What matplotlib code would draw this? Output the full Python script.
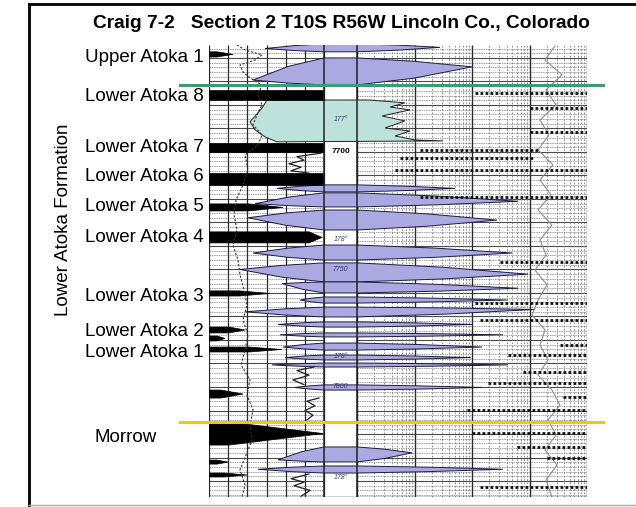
import matplotlib.pyplot as plt
import numpy as np
from matplotlib.lines import Line2D

plt.rcParams['font.family'] = ['Liberation Sans', 'DejaVu Sans']

# header text
title = 'Craig 7-2   Section 2 T10S R56W Lincoln Co., Colorado'
side_label = 'Lower Atoka Formation'

# formation tops picked on the log (depth in ft)
top_names = ['Upper Atoka 1', 'Lower Atoka 8', 'Lower Atoka 7', 'Lower Atoka 6',
             'Lower Atoka 5', 'Lower Atoka 4', 'Lower Atoka 3', 'Lower Atoka 2',
             'Lower Atoka 1', 'Morrow']
top_depths = [7660.0, 7676.2, 7697.9, 7710.6, 7723.4, 7736.2, 7761.7, 7776.2,
              7785.5, 7821.3]

# correlation lines
green_depth = 7671.5
yellow_depth = 7814.9

# depth column annotations
depth_texts = ['177°', '7700', '178°', '7750', '178°', '7800', '178°']
depth_text_depths = [7686.4, 7700.0, 7737.4, 7750.2, 7787.2, 7800.0, 7838.3]

# black (shale) beds in track 1: top, base, reach, start of taper
bed_top = [7657.4, 7673.6, 7696.2, 7708.9, 7722.1, 7734.0, 7759.1, 7774.5,
           7778.3, 7783.0, 7801.3, 7814.9, 7831.1, 7836.6]
bed_base = [7659.6, 7677.9, 7700.0, 7714.0, 7725.1, 7738.7, 7761.3, 7777.0,
            7780.4, 7785.1, 7804.7, 7824.7, 7832.8, 7838.3]
bed_reach = [24, 115, 115, 115, 74, 113, 61, 36, 16, 73, 34, 114, 19, 38]
bed_body = [8, 115, 115, 115, 40, 100, 30, 20, 8, 40, 12, 20, 8, 15]

# purple porosity crossovers: top, base, left tip, left tip depth, right tip, right tip depth
lens_top = [7654.0, 7660.0, 7714.0, 7717.4, 7724.7, 7739.6, 7747.2, 7755.3, 7761.7,
            7766.0, 7772.3, 7777.0, 7781.3, 7786.4, 7789.8, 7799.1, 7825.5, 7833.6]
lens_base = [7657.4, 7671.5, 7717.0, 7723.4, 7733.2, 7746.0, 7755.3, 7760.0, 7764.3,
             7770.2, 7774.5, 7778.7, 7784.3, 7788.5, 7791.5, 7801.3, 7831.9, 7836.6]
lens_left = [56, 44, 68, 46, 39, 44, 31, 73, 91, 36, 69, 71, 74, 76, 63, 86, 69, 49]
lens_left_pk = [7656.0, 7669.4, 7715.5, 7722.0, 7728.0, 7743.0, 7750.0, 7756.0, 7763.0,
                7768.0, 7773.4, 7777.8, 7783.0, 7787.5, 7790.6, 7800.2, 7831.0, 7835.0]
lens_right = [231, 263, 246, 309, 288, 303, 319, 309, 298, 326, 263, 294, 273, 262,
              299, 273, 203, 294]
lens_right_pk = [7655.5, 7663.8, 7715.5, 7721.0, 7729.0, 7743.0, 7752.0, 7758.0, 7763.0,
                 7767.0, 7773.4, 7777.8, 7783.0, 7787.5, 7790.6, 7800.2, 7828.0, 7835.0]

# teal zone below Lower Atoka 8 (outline points)
teal_x = [58, 53, 47, 41, 46, 56, 68, 234, 206, 186, 201, 176, 196, 173, 201, 181, 196, 160]
teal_depth = [7677.9, 7681.3, 7684.3, 7687.2, 7690.6, 7693.6, 7695.7, 7695.3, 7694.9,
              7693.2, 7691.1, 7689.8, 7686.8, 7684.7, 7682.1, 7680.9, 7679.1, 7677.9]

# gamma ray style dotted curve, track 1
gr_depth = [7654.5, 7656.6, 7658.7, 7660.9, 7663.0, 7666.0, 7668.5, 7671.5, 7675.7,
            7680.0, 7684.3, 7688.5, 7692.8, 7697.0, 7701.3, 7707.7, 7714.0, 7720.4,
            7726.8, 7733.2, 7739.6, 7746.0, 7752.3, 7758.7, 7765.1, 7771.5, 7777.9,
            7784.3, 7790.6, 7797.0, 7803.4, 7809.8, 7816.2, 7822.6, 7828.9, 7835.3,
            7841.7, 7846.8]
gr_value = [28, 36, 53, 46, 31, 34, 41, 53, 49, 53, 48, 44, 53, 49, 36, 39, 34, 27,
            25, 28, 24, 29, 31, 35, 38, 34, 39, 36, 32, 41, 38, 44, 41, 43, 37, 31,
            36, 33]

# resistivity wiggles in track 1 (nan = curve hidden behind the fills)
res_depth = [7700.5, 7702.0, 7703.5, 7705.0, 7706.5, 7708.0, 7709.0, np.nan,
             7791.5, 7793.0, 7795.0, 7797.0, 7799.0, np.nan,
             7804.7, 7806.0, 7808.0, 7810.0, 7812.0, 7814.0, np.nan,
             7837.0, 7839.0, 7840.5, 7842.0, 7844.0, 7846.5]
res_value = [112, 88, 95, 80, 92, 82, 100, np.nan,
             105, 88, 100, 84, 95, np.nan,
             110, 98, 106, 96, 104, 98, np.nan,
             100, 82, 95, 85, 101, 92]

# thin grey curve, track 2
sp_depth = [7654.9, 7660.9, 7667.2, 7673.6, 7680.0, 7686.4, 7692.8, 7699.1, 7705.5,
            7711.9, 7718.3, 7724.7, 7731.1, 7737.4, 7743.8, 7750.2, 7756.6, 7763.0,
            7769.4, 7775.7, 7782.1, 7788.5, 7794.9, 7801.3, 7807.7, 7814.0, 7820.4,
            7826.8, 7833.2, 7839.6, 7846.8]
sp_value = [346, 336, 353, 337, 347, 331, 340, 329, 344, 331, 342, 329, 343, 331,
            337, 326, 338, 329, 323, 336, 331, 339, 329, 343, 351, 339, 347, 336,
            348, 337, 343]

# heavy dotted streaks in track 2
streak_depth = [7674.9, 7681.3, 7691.5, 7699.1, 7702.6, 7707.7, 7719.1, 7746.8,
                7764.3, 7771.5, 7782.1, 7786.4, 7793.6, 7798.3, 7804.3, 7809.8,
                7819.6, 7825.5, 7830.2, 7842.6]
streak_start = [266, 321, 321, 211, 191, 186, 211, 291, 266, 271, 351, 299, 314, 279,
                354, 258, 263, 308, 338, 271]
streak_end = [378, 378, 378, 331, 324, 378, 378, 378, 378, 378, 378, 378, 378, 378,
              378, 378, 378, 378, 378, 378]

# track layout (log units across the panel)
T1 = (0, 115)
DT = (115, 148)
T2 = (148, 378)
DECADE = 57.5
D_TOP, D_BOT = 7654.5, 7846.8

PURPLE = '#aaa9e2'
TEAL = '#bde2dc'

fig = plt.figure(figsize=(6.36, 5.07), dpi=100)
ax = fig.add_axes([209 / 636, 1 - 497 / 507, 378 / 636, 452 / 507])
ax.set_xlim(0, 378)
ax.set_ylim(D_BOT, D_TOP)
ax.axis('off')

# horizontal grid, not in the depth column
minor = np.arange(7656, 7847, 2)
major = np.arange(7660, 7847, 10)
for x0, x1 in [T1, T2]:
    ax.hlines(minor, x0, x1, colors='#8a8a8a', linewidth=0.55, linestyles=(0, (2, 1)), zorder=1)
    ax.hlines(major, x0, x1, colors='#4a4a4a', linewidth=0.8, zorder=1)

# vertical grid
for x in np.linspace(T1[0], T1[1], 7):
    ax.vlines(x, D_BOT, D_TOP, colors='#2a2a2a', linewidth=0.9, zorder=1)
for d in range(4):
    base = T2[0] + d * DECADE
    for k in range(2, 10):
        ax.vlines(base + DECADE * np.log10(k), D_BOT, D_TOP, colors='#7a7a7a',
                  linewidth=0.6, linestyles=(0, (2, 2)), zorder=1)
for d in range(5):
    ax.vlines(T2[0] + d * DECADE, D_BOT, D_TOP, colors='#2a2a2a', linewidth=1.0, zorder=1)
ax.vlines([DT[0], DT[1]], D_BOT, D_TOP, colors='#222222', linewidth=1.1, zorder=6)
ax.hlines(D_BOT, 0, 378, colors='#222222', linewidth=1.0, zorder=6)

# teal zone
ax.fill(teal_x, teal_depth, facecolor=TEAL, edgecolor='#222222', linewidth=0.7, zorder=2)

# purple crossovers, tapering out from the depth column
for i in range(len(lens_top)):
    t, b = lens_top[i], lens_base[i]
    lx, lp = lens_left[i], lens_left_pk[i]
    rx, rp = lens_right[i], lens_right_pk[i]
    xs = [DT[0], DT[1],
          DT[1] + 0.5 * (rx - DT[1]), rx, DT[1] + 0.5 * (rx - DT[1]),
          DT[1], DT[0],
          DT[0] - 0.5 * (DT[0] - lx), lx, DT[0] - 0.5 * (DT[0] - lx)]
    ys = [t, t,
          t + 0.38 * (rp - t), rp, b - 0.38 * (b - rp),
          b, b,
          b - 0.38 * (b - lp), lp, t + 0.38 * (lp - t)]
    ax.fill(xs, ys, facecolor=PURPLE, edgecolor='#1c1c40', linewidth=0.7, zorder=3)

# black beds
for i in range(len(bed_top)):
    t, b = bed_top[i], bed_base[i]
    m = (t + b) / 2
    ax.fill([0, bed_body[i], bed_reach[i], bed_body[i], 0], [t, t, m, b, b],
            facecolor='black', edgecolor='black', linewidth=0.5, zorder=4)

# curves
ax.plot(gr_value, gr_depth, color='#333333', linewidth=0.8, linestyle=(0, (2, 1.5)), zorder=5)
ax.plot(res_value, res_depth, color='#222222', linewidth=0.9, zorder=5)
ax.plot(sp_value, sp_depth, color='#8c8c8c', linewidth=0.8, zorder=5)
for d, x0, x1 in zip(streak_depth, streak_start, streak_end):
    ax.plot([x0, x1], [d, d], color='#111111', linewidth=2.0,
            linestyle=(0, (1, 0.8)), zorder=5)

# depth column labels
for s, d in zip(depth_texts, depth_text_depths):
    if s == '7700':
        ax.text((DT[0] + DT[1]) / 2, d, s, ha='center', va='center', fontsize=6,
                fontweight='bold', zorder=7)
    else:
        ax.text((DT[0] + DT[1]) / 2, d, s, ha='center', va='center', fontsize=5,
                style='italic', color='#3a3a70', zorder=7)

# correlation lines
ax.plot([-29, 394], [green_depth, green_depth], color='#3c9a74', linewidth=2.2,
        clip_on=False, zorder=8)
ax.plot([-29, 394], [yellow_depth, yellow_depth], color='#f3c31f', linewidth=2.2,
        clip_on=False, zorder=8)

# formation names
for name, d in zip(top_names, top_depths):
    x = -114 if name == 'Morrow' else -124
    ax.text(x, d, name, ha='left', va='center', fontsize=13.5, clip_on=False)

fig.text(341 / 636, 1 - 24 / 507, title, ha='center', va='center', fontsize=13.8,
         fontweight='bold')
fig.text(63 / 636, 1 - 220 / 507, side_label, rotation=90, ha='center', va='center',
         fontsize=13.5)

# slide frame
fig.add_artist(Line2D([29 / 636, 29 / 636], [1 - 505 / 507, 1 - 4 / 507], color='black',
                      linewidth=2.0))
fig.add_artist(Line2D([29 / 636, 1.0], [1 - 4 / 507, 1 - 4 / 507], color='black',
                      linewidth=2.0))
fig.add_artist(Line2D([29 / 636, 1.0], [1 - 505 / 507, 1 - 505 / 507], color='#aaaaaa',
                      linewidth=1.0))

fig.savefig('out.png', dpi=100)
